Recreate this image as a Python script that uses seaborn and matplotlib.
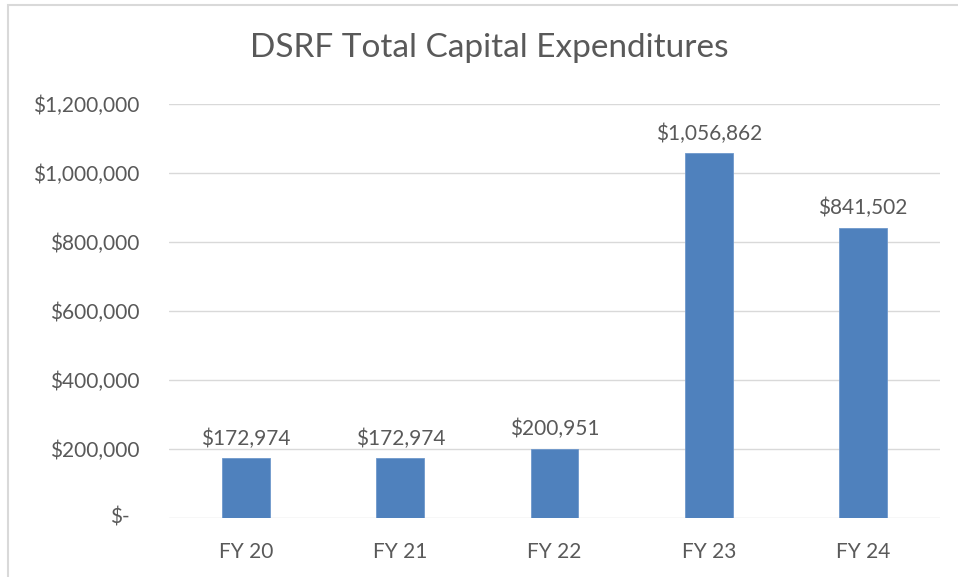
import matplotlib
matplotlib.use("Agg")
import matplotlib.pyplot as plt
import matplotlib.patches as mpatches
from matplotlib.ticker import FuncFormatter
import pandas as pd
import seaborn as sns

# chart data
years = ["FY 20", "FY 21", "FY 22", "FY 23", "FY 24"]
capex = [172974, 172974, 200951, 1056862, 841502]
y_ticks = [0, 200000, 400000, 600000, 800000, 1000000, 1200000]

BAR_COLOR = "#4F81BD"
TEXT_COLOR = "#595959"
GRID_COLOR = "#D9D9D9"

sns.set_style("white")
plt.rcParams["font.family"] = ["Lato", "DejaVu Sans"]

df = pd.DataFrame({"year": years, "capex": capex})

fig = plt.figure(figsize=(9.58, 5.77), dpi=100)
ax = fig.add_axes([169 / 958, 59 / 577, (940 - 169) / 958, (518 - 104) / 577])

sns.barplot(data=df, x="year", y="capex", color=BAR_COLOR, width=0.31,
            saturation=1, edgecolor="#6E98CC", linewidth=0.6, ax=ax)

ax.set_ylim(0, 1200000)
ax.set_yticks(y_ticks)


def money(v, pos=None):
    if v == 0:
        return ""  # drawn separately below, accounting style
    return f"${v:,.0f}"


ax.yaxis.set_major_formatter(FuncFormatter(money))
ax.grid(axis="y", color=GRID_COLOR, linewidth=1.0)
ax.set_axisbelow(True)
for s in ax.spines.values():
    s.set_visible(False)
ax.tick_params(axis="y", length=0, pad=21, labelsize=15, labelcolor=TEXT_COLOR)
ax.tick_params(axis="x", length=0, pad=17, labelsize=15, labelcolor=TEXT_COLOR)
ax.set_xlabel("")
ax.set_ylabel("")

# "$-" sits a bit further left than the other labels in Excel's accounting format
ax.annotate("$-", xy=(0, 0), xycoords=("axes fraction", "data"), xytext=(-28, 0),
            textcoords="offset points", ha="right", va="center",
            fontsize=15, color=TEXT_COLOR)

# value labels above the bars
for i, v in enumerate(capex):
    ax.annotate(f"${v:,.0f}", (i, v), xytext=(0, 7), textcoords="offset points",
                ha="center", va="bottom", fontsize=15, color=TEXT_COLOR)

fig.text(489 / 958, 529 / 577, "DSRF Total Capital Expenditures",
         ha="center", va="center", fontsize=24, color=TEXT_COLOR)

# chart border
border = mpatches.Rectangle((8 / 958, -0.05), 1.0, 572 / 577 + 0.05,
                            transform=fig.transFigure, fill=False,
                            edgecolor=GRID_COLOR, linewidth=1.5)
fig.patches.append(border)

fig.savefig("out.png", dpi=100)
